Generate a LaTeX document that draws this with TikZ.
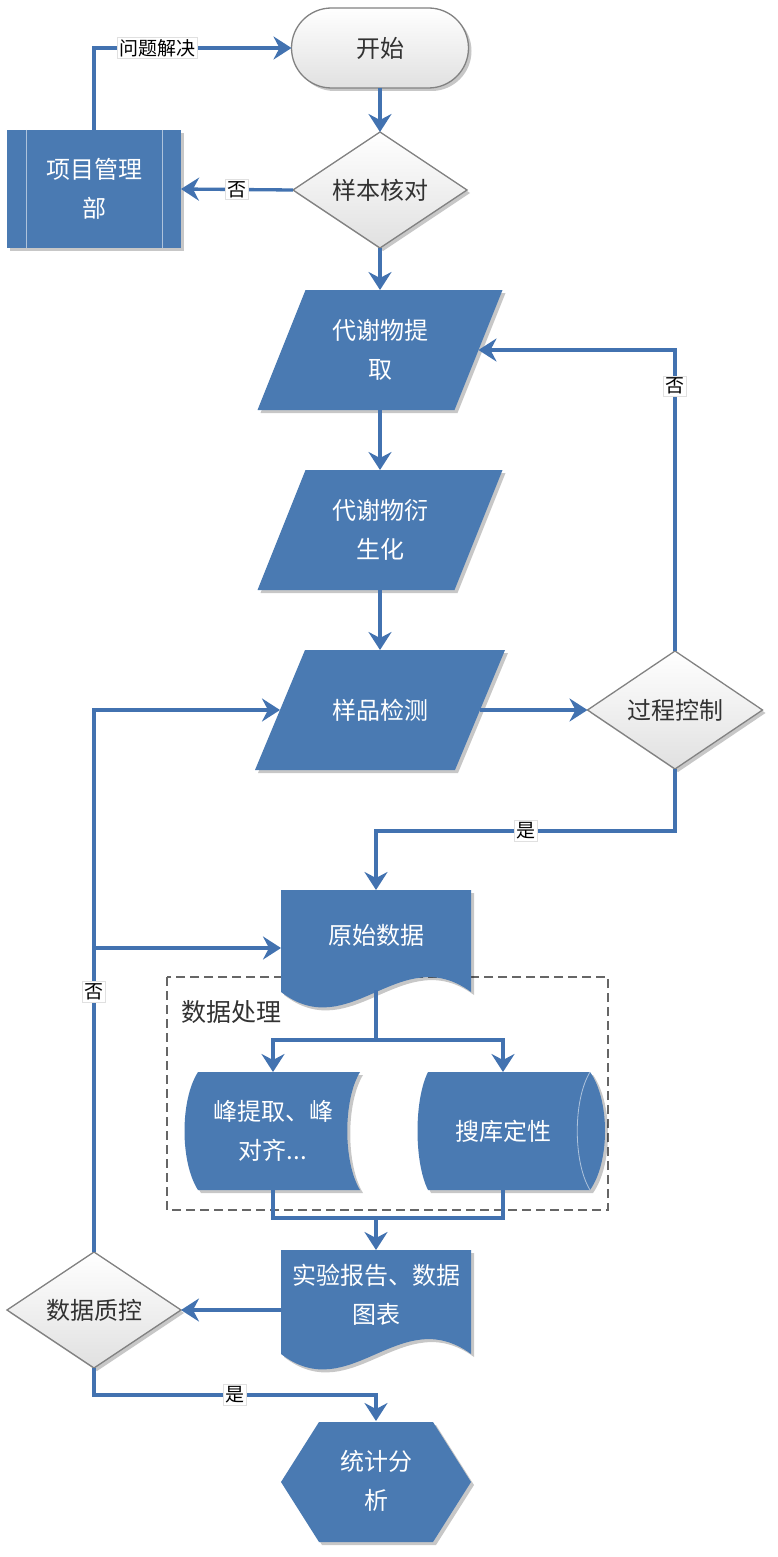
\documentclass[tikz,border=0pt]{standalone}
\usepackage{fontspec}
\setmainfont{Noto Sans CJK SC}
\usetikzlibrary{shapes.geometric,shapes.misc,arrows.meta,calc,shadows}
\definecolor{fb}{RGB}{74,122,178}
\definecolor{ln}{RGB}{66,114,176}
\definecolor{gb}{RGB}{130,130,130}
\definecolor{tx}{RGB}{50,50,50}
\pgfdeclarelayer{bg}
\pgfsetlayers{bg,main}
\tikzset{
  txt/.style={inner sep=0pt, outer sep=0pt, align=center, font=\fontsize{24}{39}\selectfont},
  wt/.style={txt, text=white},
  gt/.style={txt, text=tx},
  shad/.style={drop shadow={shadow xshift=3pt, shadow yshift=-3pt, opacity=0.22, fill=black}},
  bluefill/.style={fill=fb, shad},
  graybox/.style={draw=gb, line width=1.3pt, top color=white, bottom color=black!12, shad},
  conn/.style={draw=ln, line width=3.3pt},
  arr/.style={conn, -{Stealth[length=18pt,width=23pt,inset=6pt]}},
  lab/.style={fill=white, draw=black!12, line width=0.6pt, text=black, inner sep=2pt, font=\fontsize{19}{19}\selectfont},
  innerline/.style={draw=white!55!fb, line width=1pt},
}
\begin{document}
\begin{tikzpicture}[x=1pt,y=-1pt]
\useasboundingbox (0,0) rectangle (777,1557);
\begin{pgfonlayer}{bg}
  \fill[white] (0,0) rectangle (777,1557);
\end{pgfonlayer}

% nodes
\node[rounded rectangle, graybox, gt, minimum width=177pt, minimum height=80pt] (start) at (380,48) {开始};
\node[diamond, graybox, gt, minimum width=174pt, minimum height=116pt, aspect=1.5] (check) at (380,190) {样本核对};
\node[rectangle, bluefill, wt, minimum width=174pt, minimum height=118pt] (pm) at (94,189) {项目管理\\部};
\draw[innerline] ($(pm.north west)+(19,0)$) -- ($(pm.south west)+(19,0)$);
\draw[innerline] ($(pm.north east)+(-19,0)$) -- ($(pm.south east)+(-19,0)$);

\node[wt, minimum width=245pt, minimum height=120pt] (tq) at (380,350) {代谢物提\\取};
\node[wt, minimum width=245pt, minimum height=120pt] (ys) at (380,530) {代谢物衍\\生化};
\node[wt, minimum width=250pt, minimum height=120pt] (det) at (380,710) {样品检测};
\node[diamond, graybox, gt, minimum width=175pt, minimum height=118pt, aspect=1.5] (pc) at (675,710) {过程控制};

\node[wt, minimum width=190pt, minimum height=90pt] (raw) at (376,935) {原始数据};
\node[font=\fontsize{25}{25}\selectfont, text=tx, anchor=west, inner sep=0pt] (dp) at (181,1012) {数据处理};
\node[wt, minimum width=175pt, minimum height=118pt] (peak) at (273,1131) {峰提取、峰\\对齐...};
\node[wt, minimum width=170pt, minimum height=118pt] (db) at (503,1131) {搜库定性};
\node[wt, minimum width=190pt, minimum height=90pt] (rep) at (376,1295) {实验报告、数据\\图表};
\node[diamond, graybox, gt, minimum width=174pt, minimum height=116pt, aspect=1.5] (qc) at (94,1310) {数据质控};
\node[wt, minimum width=190pt, minimum height=120pt] (stat) at (376,1481) {统计分\\析};

% shapes on background
\begin{pgfonlayer}{bg}
  \draw[black!60, dash pattern=on 9pt off 5pt, line width=1.4pt] (167,977) rectangle (608,1210);
  \path[bluefill] ($(tq.north west)+(48,0)$) -- (tq.north east) -- ($(tq.south east)+(-48,0)$) -- (tq.south west) -- cycle;
  \path[bluefill] ($(ys.north west)+(48,0)$) -- (ys.north east) -- ($(ys.south east)+(-48,0)$) -- (ys.south west) -- cycle;
  \path[bluefill] ($(det.north west)+(50,0)$) -- (det.north east) -- ($(det.south east)+(-50,0)$) -- (det.south west) -- cycle;
  \path[bluefill] (281,890) -- (471,890) -- (471,992) .. controls (400,940) and (350,1045) .. (281,992) -- cycle;
  \path[bluefill] (198,1072) -- (360,1072) .. controls (343,1100) and (343,1162) .. (360,1190) -- (198,1190) .. controls (180,1162) and (180,1100) .. (198,1072) -- cycle;
  \path[bluefill] (428,1072) -- (590,1072) .. controls (610,1100) and (610,1162) .. (590,1190) -- (428,1190) .. controls (414,1162) and (414,1100) .. (428,1072) -- cycle;
  \draw[innerline, line width=0.8pt] (590,1072) .. controls (573,1100) and (573,1162) .. (590,1190);
  \path[bluefill] (281,1250) -- (471,1250) -- (471,1354) .. controls (400,1302) and (350,1407) .. (281,1354) -- cycle;
  \path[bluefill] (319,1422) -- (433,1422) -- (471,1482) -- (433,1542) -- (319,1542) -- (281,1482) -- cycle;
\end{pgfonlayer}

% helper coordinates
\coordinate (tqE) at ($(tq.east)+(-24,0)$);
\coordinate (detE) at ($(det.east)+(-25,0)$);
\coordinate (detW) at ($(det.west)+(25,0)$);
\coordinate (rawW) at (281,948);
\coordinate (rawB) at (376,990);
\coordinate (br) at (qc.north |- rawW);
\coordinate (split) at (376,1040);
\coordinate (join) at (376,1218);
\coordinate (repW) at (281,1310);

% connectors
\draw[arr] (pm.north) |- node[lab, pos=0.66]{问题解决} (start.west);
\draw[arr] (start.south) -- (check.north);
\draw[arr] (check.west) -- node[lab]{否} (pm.east);
\draw[arr] (check.south) -- (tq.north);
\draw[arr] (tq.south) -- (ys.north);
\draw[arr] (ys.south) -- (det.north);
\draw[arr] (detE) -- (pc.west);
\draw[arr] (pc.north) |- node[lab, pos=0.44]{否} (tqE);
\draw[arr] (pc.south) -- ++(0,62) -| node[lab, pos=0.25]{是} (raw.north);
\draw[arr] (qc.north) |- node[lab, pos=0.24]{否} (detW);
\draw[arr] (br) -- (rawW);
\draw[arr] (rawB) -- (split) -| (peak.north);
\draw[arr] (rawB) -- (split) -| (db.north);
\draw[conn] (peak.south) |- (join) -| (db.south);
\draw[arr] (join) -- (rep.north);
\draw[arr] (repW) -- (qc.east);
\draw[arr] (qc.south) -- ++(0,27) -| node[lab, pos=0.25]{是} (stat.north);
\end{tikzpicture}
\end{document}
